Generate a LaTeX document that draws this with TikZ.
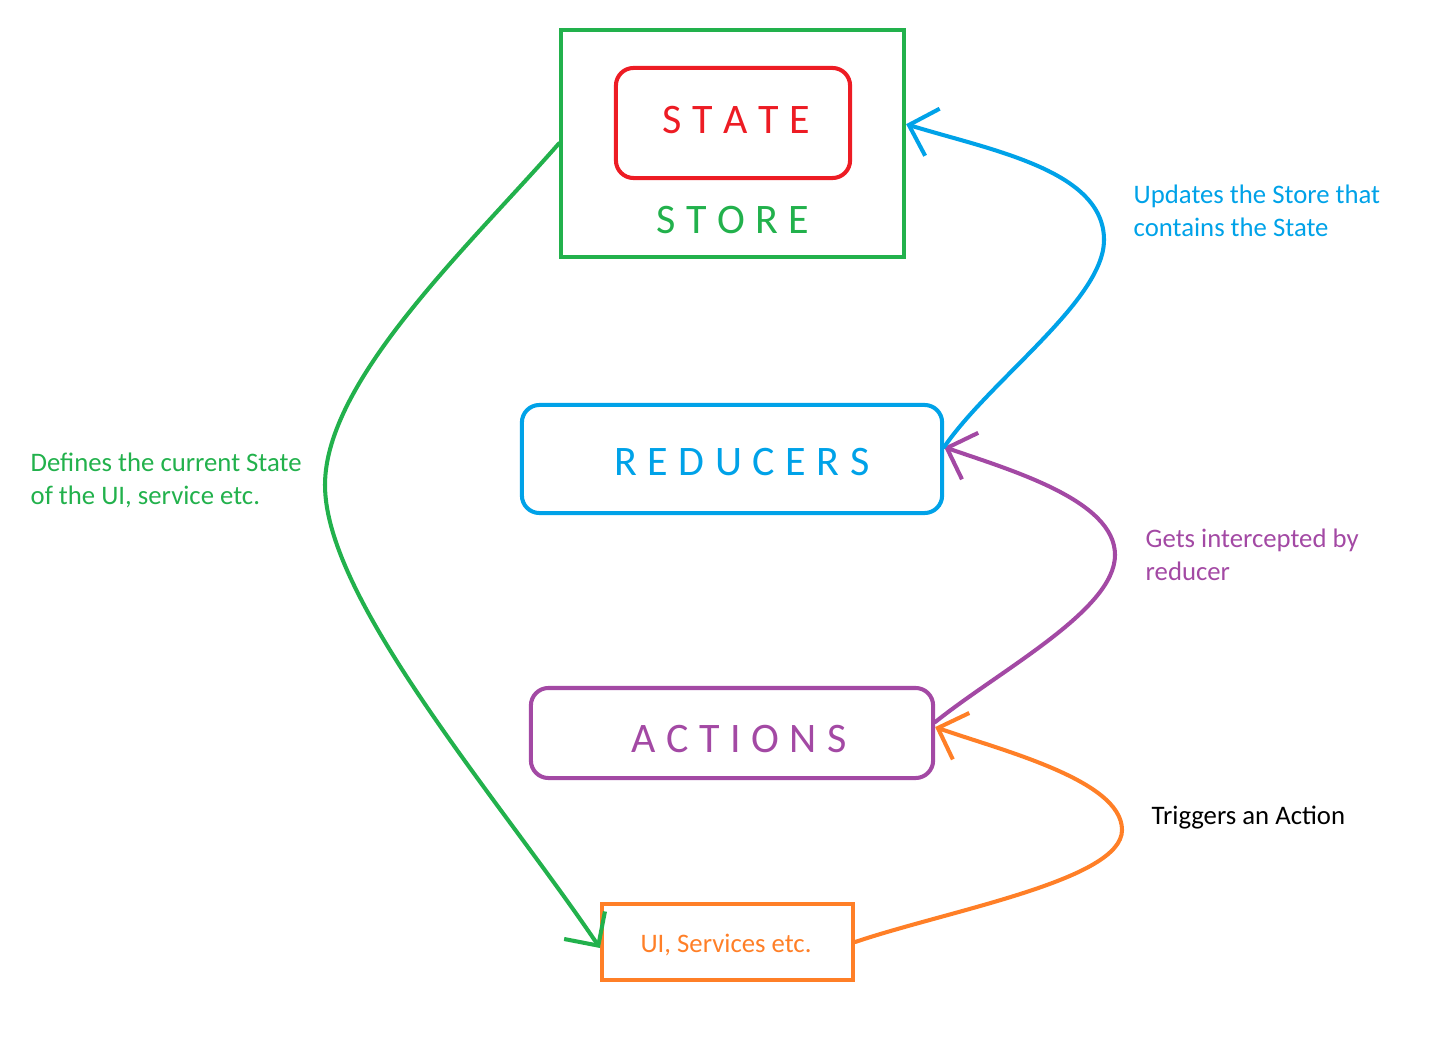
\documentclass[tikz,border=0pt]{standalone}
\usepackage{fontspec}
\setmainfont{Carlito}
\usetikzlibrary{arrows.meta}

\definecolor{pgreen}{HTML}{22B14C}
\definecolor{pred}{HTML}{ED1C24}
\definecolor{pblue}{HTML}{00A2E8}
\definecolor{ppurple}{HTML}{A349A4}
\definecolor{porange}{HTML}{FF7F27}

\newcommand\ls{\kern0.25em}

\begin{document}
\begin{tikzpicture}[x=0.01cm, y=-0.01cm,
    box/.style={draw, line width=1.15pt, inner sep=0pt},
    bigtext/.style={font=\fontsize{11.95}{14}\selectfont, inner sep=0pt},
    smalltext/.style={font=\fontsize{7.6}{9.4}\selectfont, align=left, inner sep=0pt},
    flow/.style={line width=1.15pt, line cap=round,
      -{Straight Barb[length=7pt,width=14pt,line width=1.15pt]}}]
      \useasboundingbox (0, 0) rectangle (1452, 1040);

      % boxes
      \node[box, pgreen, minimum width=3.43cm, minimum height=2.27cm] (store) at (732.5, 143.5) {};
      \node[box, pred, rounded corners=5pt, minimum width=2.34cm, minimum height=1.1cm] (state) at (733, 123) {};
      \node[box, pblue, rounded corners=5pt, minimum width=4.2cm, minimum height=1.08cm] (reducers) at (732, 459) {};
      \node[box, ppurple, rounded corners=5pt, minimum width=4.02cm, minimum height=0.9cm] (actions) at (732, 733) {};
      \node[box, porange, minimum width=2.51cm, minimum height=0.76cm] (ui) at (727.5, 942) {};

      % box texts
      \node[bigtext, pred] (statename) at (736, 120) {S\ls T\ls A\ls T\ls E};
      \node[bigtext, pgreen] (storename) at (733, 220) {S\ls T\ls O\ls R\ls E};
      \node[bigtext, pblue] (reducersname) at (742, 462) {R\ls E\ls D\ls U\ls C\ls E\ls R\ls S};
      \node[bigtext, ppurple] (actionsname) at (739, 739) {A\ls C\ls T\ls I\ls O\ls N\ls S};
      \node[smalltext, porange] (uiname) at (726, 945) {UI, Services etc.};

      % labels
      \node[smalltext, pblue, anchor=west] (updates) at (1133, 211) {Updates the Store that\\contains the State};
      \node[smalltext, ppurple, anchor=west] (gets) at (1145, 555) {Gets intercepted by\\reducer};
      \node[smalltext, black, anchor=west] (triggers) at (1151, 818) {Triggers an Action};
      \node[smalltext, pgreen, anchor=west] (defines) at (30, 480) {Defines the current State\\of the UI, service etc.};

      % flows
      \draw[flow, pgreen] (store.west) .. controls (470, 245) and (325, 380) .. (325, 485)
        .. controls (325, 600) and (500, 800) .. ([yshift=-1.7pt]ui.west);
      \draw[flow, porange] (ui.east) .. controls (950, 910) and (1122, 880) .. (1122, 830)
        .. controls (1122, 780) and (1000, 750) .. ([yshift=1.7pt]actions.east);
      \draw[flow, ppurple] ([yshift=3.1pt]actions.east) .. controls (1000, 670) and (1115, 610) .. (1115, 555)
        .. controls (1115, 500) and (1010, 470) .. ([yshift=3.4pt]reducers.east);
      \draw[flow, pblue] ([yshift=3.4pt]reducers.east) .. controls (990, 380) and (1104, 300) .. (1104, 240)
        .. controls (1104, 170) and (990, 150) .. ([yshift=5.5pt]store.east);
\end{tikzpicture}
\end{document}
